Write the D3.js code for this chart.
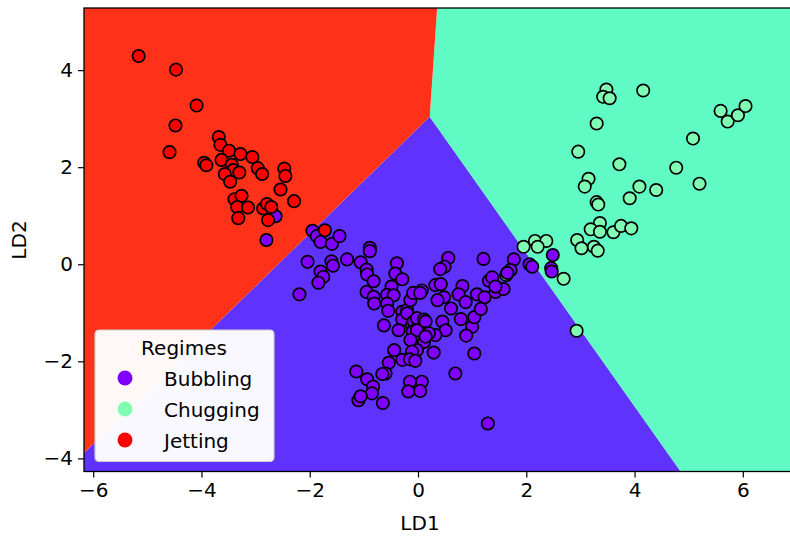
<!DOCTYPE html>
<html><head><meta charset="utf-8">
<script src="https://cdn.jsdelivr.net/npm/d3@7/dist/d3.min.js"></script>
<style>body{margin:0;background:#fff} text{font-family:"DejaVu Sans",sans-serif;fill:#000}</style>
</head><body>
<svg id="c" width="790" height="537"></svg>
<script>
// ---- data (LD1, LD2) ----
const classes = ["Bubbling", "Chugging", "Jetting"];
const pointColors = ["#8000ff", "#80ffb4", "#ff0000"];
const regionColors = ["#5f32fe", "#60fac5", "#ff3219"];
const xTicks = [-6, -4, -2, 0, 2, 4, 6];
const yTicks = [-4, -2, 0, 2, 4];

const bubbling = [
[-2.63,0.99],[-2.80,0.50],[-1.95,0.69],[-1.87,0.58],[-1.80,0.46],[-1.59,0.42],[-1.45,0.58],[-0.89,0.34],[-0.89,0.27],
[-2.04,0.05],[-1.60,0.06],[-1.57,-0.03],[-1.31,0.10],[-1.06,0.04],[-0.95,-0.11],[-0.94,-0.21],[-1.80,-0.15],[-1.75,-0.26],
[-1.84,-0.38],[-0.82,-0.35],[-2.19,-0.62],[-0.39,0.02],[-0.42,-0.19],[-0.29,-0.31],[-0.49,-0.46],[-0.95,-0.57],[-0.82,-0.67],
[-0.81,-0.81],[-0.57,-0.63],[-0.45,-0.64],[-0.57,-0.81],[-0.55,-0.96],[-0.29,-0.98],[-0.20,-0.94],[-0.14,-0.74],[-0.09,-0.59],
[-0.29,-1.14],[-0.63,-1.26],[-0.36,-1.36],[-0.20,-1.01],[-0.11,-1.25],[-0.08,-1.18],[0.01,-1.21],[-0.02,-1.11],[0.11,-1.14],
[0.14,-1.18],[0.45,-1.18],[0.51,-1.36],[0.79,-1.13],[1.00,-1.29],[1.04,-1.09],[0.89,-1.47],[0.32,-1.46],[0.14,-1.42],
[0.20,-1.42],[-0.10,-1.39],[-0.02,-1.36],[0.11,-1.60],[0.14,-1.49],[-0.02,-1.77],[-0.08,-1.97],[0.29,-1.82],[1.04,-1.84],
[0.69,-2.25],[0.07,-2.42],[0.04,-2.61],[-0.15,-2.42],[-0.18,-2.62],[1.29,-3.28],[-0.44,-1.77],[-0.29,-1.97],[-0.54,-2.03],
[-0.60,-2.25],[-0.66,-2.26],[-0.14,-1.56],[-0.11,-1.80],[-0.15,-1.96],[-0.05,-1.99],[-1.14,-2.21],[-0.94,-2.37],[-0.83,-2.52],
[-0.85,-2.66],[-1.10,-2.80],[-1.06,-2.72],[-0.65,-2.86],[0.56,0.13],[0.49,-0.05],[0.41,-0.10],[1.21,0.11],[1.77,0.10],
[1.71,-0.12],[1.65,-0.18],[2.06,0.00],[2.11,-0.05],[2.49,0.19],[2.46,-0.08],[2.47,-0.15],[0.07,-0.54],[0.04,-0.59],
[0.32,-0.43],[0.42,-0.41],[0.48,-0.68],[0.36,-0.74],[0.82,-0.45],[0.75,-0.62],[0.88,-0.78],[1.09,-0.62],[1.23,-0.68],
[1.31,-0.34],[1.37,-0.27],[1.43,-0.57],[1.58,-0.51],[0.61,-0.91],[1.16,-0.92],[1.43,-0.46]
];
const chugging = [
[3.48,3.60],[3.42,3.45],[3.54,3.42],[4.16,3.58],[5.59,3.16],[5.72,2.94],[5.91,3.07],[6.05,3.26],[3.30,2.90],[5.08,2.59],
[2.96,2.32],[3.72,2.06],[4.77,1.99],[3.15,1.76],[3.08,1.60],[5.20,1.66],[4.09,1.60],[4.40,1.53],[3.91,1.36],[3.30,1.28],
[3.33,1.23],[3.36,0.85],[3.19,0.72],[3.36,0.67],[3.61,0.66],[3.75,0.79],[3.94,0.74],[2.94,0.50],[2.16,0.48],[2.37,0.48],
[1.95,0.36],[2.21,0.36],[3.02,0.33],[3.25,0.36],[3.32,0.28],[2.69,-0.30],[2.93,-1.37],[1.65,-0.18],[1.63,-0.22]
];
const jetting = [
[-5.16,4.29],[-4.47,4.01],[-4.09,3.27],[-4.48,2.86],[-4.59,2.31],[-3.68,2.62],[-3.65,2.46],[-3.49,2.34],[-3.28,2.27],
[-3.06,2.21],[-3.95,2.09],[-3.91,2.04],[-3.63,2.15],[-3.44,2.05],[-3.41,1.94],[-3.30,1.89],[-3.57,1.86],[-3.47,1.70],
[-2.96,1.98],[-2.88,1.86],[-2.47,1.97],[-2.45,1.82],[-2.54,1.54],[-2.29,1.30],[-3.39,1.34],[-3.26,1.41],[-3.34,1.18],
[-3.14,1.17],[-3.32,0.95],[-2.86,1.15],[-2.79,1.24],[-2.71,1.18],[-2.77,0.91],[-1.72,0.70]
];
// decision regions (polygons in LD1/LD2 units, clipped to axes)
const regionBubbling = [[0.216,3.04],[-7,-4.79],[-7,-5],[5.314,-5]];
const regionChugging = [[0.216,3.04],[0.397,6],[8,6],[8,-5],[5.314,-5]];
const regionJetting  = [[0.216,3.04],[0.397,6],[-7,6],[-7,-4.79]];

// ---- layout ----
const svg = d3.select("#c");
const L = 84, R = 791, T = 8, B = 471.5;
const x = d3.scaleLinear().domain([-6.17, 6.89]).range([L, R]);
const y = d3.scaleLinear().domain([-4.27, 5.28]).range([B, T]);
const FS = 20;

svg.append("clipPath").attr("id","clip").append("rect")
  .attr("x",L).attr("y",T).attr("width",R-L).attr("height",B-T);
const plot = svg.append("g").attr("clip-path","url(#clip)");
const line = d3.line().x(d=>x(d[0])).y(d=>y(d[1]));
[regionBubbling, regionChugging, regionJetting].forEach((poly,i)=>{
  plot.append("path").attr("d", line(poly)+"Z").attr("fill", regionColors[i]);
});

[[chugging,1],[bubbling,0],[jetting,2]].forEach(([arr,ci])=>{
  plot.append("g").selectAll("circle").data(arr).join("circle")
    .attr("cx",d=>x(d[0])).attr("cy",d=>y(d[1])).attr("r",6.2)
    .attr("fill",pointColors[ci]).attr("stroke","#000").attr("stroke-width",1.7);
});

// frame
svg.append("rect").attr("x",L).attr("y",T).attr("width",R-L).attr("height",B-T)
  .attr("fill","none").attr("stroke","#000").attr("stroke-width",1.3);

// axes
const fmt = d=> d<0 ? "\u2212"+Math.abs(d) : String(d);
const xa = svg.append("g").attr("transform",`translate(0,${B})`)
  .call(d3.axisBottom(x).tickValues(xTicks).tickFormat(fmt).tickSize(6).tickPadding(5));
const ya = svg.append("g").attr("transform",`translate(${L},0)`)
  .call(d3.axisLeft(y).tickValues(yTicks).tickFormat(fmt).tickSize(6).tickPadding(5));
[xa,ya].forEach(a=>{
  a.select(".domain").remove();
  a.selectAll("line").attr("stroke","#000").attr("stroke-width",1.2);
  a.selectAll("text").attr("font-size",FS).attr("font-family","DejaVu Sans").attr("fill","#000");
});

svg.append("text").attr("x", 420).attr("y",530)
  .attr("text-anchor","middle").attr("font-size",FS).text("LD1");
svg.append("text").attr("transform","translate(26,240) rotate(-90)")
  .attr("text-anchor","middle").attr("font-size",FS).text("LD2");

// legend
const lg = svg.append("g");
lg.append("rect").attr("x",95).attr("y",330).attr("width",179).attr("height",131.5).attr("rx",4)
  .attr("fill","#fff").attr("fill-opacity",0.97).attr("stroke","#cccccc").attr("stroke-width",1.2);
lg.append("text").attr("x",184).attr("y",355).attr("text-anchor","middle").attr("font-size",FS).text("Regimes");
classes.forEach((c,i)=>{
  lg.append("circle").attr("cx",125).attr("cy",378+i*31).attr("r",7.5).attr("fill",pointColors[i]);
  lg.append("text").attr("x",164).attr("y",385.5+i*31).attr("font-size",FS).text(c);
});
</script>
</body></html>
